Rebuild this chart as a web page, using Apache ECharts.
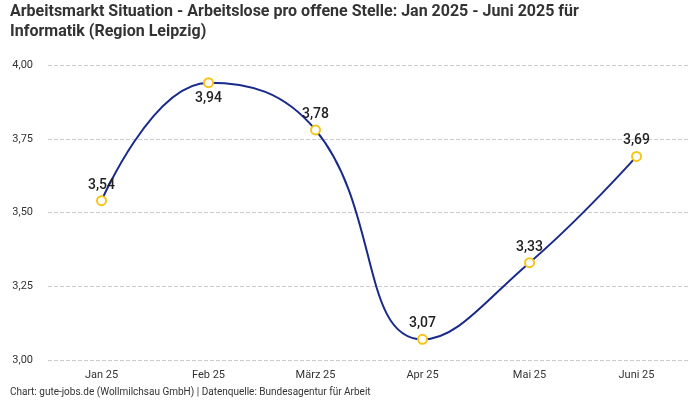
<!DOCTYPE html>
<html><head><meta charset="utf-8">
<script src="https://cdn.jsdelivr.net/npm/echarts@6/dist/echarts.min.js"></script>
<style>html,body{margin:0;padding:0;background:#fff}#c{width:700px;height:400px}</style>
</head><body><div id="c"></div>
<script>
const categories = ['Jan 25','Feb 25','März 25','Apr 25','Mai 25','Juni 25'];
const values = [3.54, 3.94, 3.78, 3.07, 3.33, 3.69];
const labelPositions = ['top','bottom','top','top','top','top'];
const yTicks = {min: 3, max: 4, interval: 0.25};
const FONT = '"Liberation Sans Narrow", "Roboto", sans-serif';
const fmt = v => v.toFixed(2).replace('.', ',');
const chart = echarts.init(document.getElementById('c'));
chart.setOption({
  animation: false,
  textStyle: {fontFamily: FONT},
  title: [{
    text: 'Arbeitsmarkt Situation - Arbeitslose pro offene Stelle: Jan 2025 - Juni 2025 für\nInformatik (Region Leipzig)',
    left: 10, top: 2, padding: 0,
    textStyle: {fontFamily: FONT, fontSize: 16, fontWeight: 'bold', color: '#333', lineHeight: 20}
  },{
    text: 'Chart: gute-jobs.de (Wollmilchsau GmbH) | Datenquelle: Bundesagentur für Arbeit',
    left: 10, top: 387, padding: 0,
    textStyle: {fontFamily: FONT, fontSize: 10, fontWeight: 'normal', color: '#333'}
  }],
  grid: {left: 48, right: 10, top: 65, bottom: 40},
  xAxis: {
    type: 'category', data: categories, boundaryGap: true,
    axisLine: {show: false}, axisTick: {show: false},
    axisLabel: {color: '#333', fontSize: 11, fontFamily: FONT, margin: 10}
  },
  yAxis: {
    type: 'value', min: yTicks.min, max: yTicks.max, interval: yTicks.interval,
    axisLine: {show: false}, axisTick: {show: false},
    axisLabel: {color: '#333', fontSize: 11, fontFamily: FONT, margin: 15, formatter: v => fmt(v)},
    splitLine: {lineStyle: {color: '#ccc', type: 'dashed'}}
  },
  series: [{
    type: 'line', smooth: 0.45,
    data: values.map((v, i) => ({value: v, label: {position: labelPositions[i]}})),
    symbol: 'emptyCircle', symbolSize: 9, showSymbol: true, showAllSymbol: true,
    lineStyle: {color: '#1a2a8a', width: 2},
    itemStyle: {color: '#f5c518', borderColor: '#f5c518', borderWidth: 2},
    label: {show: true, color: '#222', fontSize: 14, fontWeight: 500, fontFamily: FONT, distance: 3, formatter: p => fmt(p.value)}
  }]
});
</script></body></html>
